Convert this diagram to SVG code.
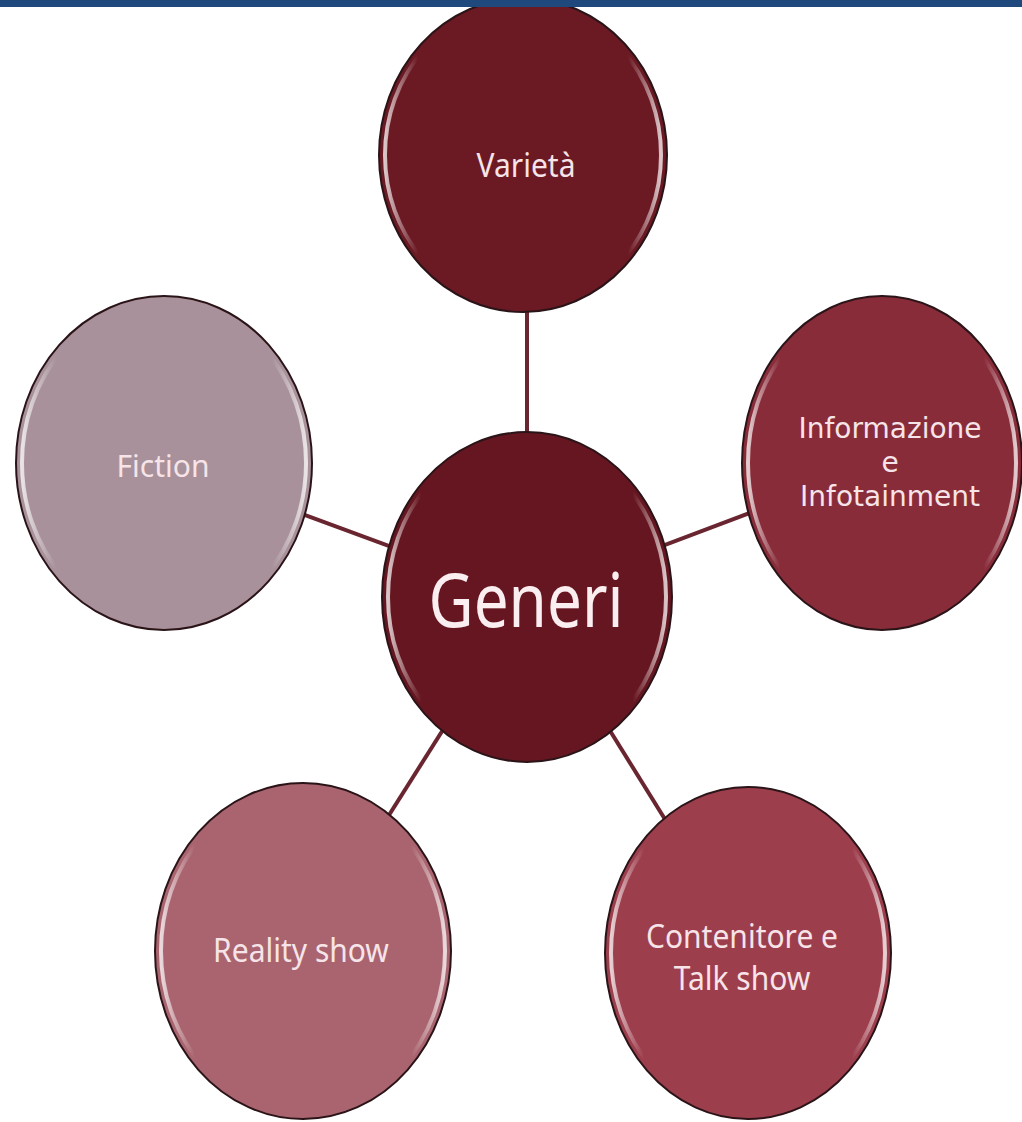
<svg xmlns="http://www.w3.org/2000/svg" width="1022" height="1122" viewBox="0 0 1022 1122">
<style>
.lbl{font-family:"Noto Sans","DejaVu Sans",sans-serif;font-size:30px;fill:#f6e4e8;text-anchor:middle}
.lbl2{font-family:"DejaVu Sans","Noto Sans",sans-serif;font-size:28px;fill:#f6e4e8;text-anchor:middle}
.big{font-family:"Noto Sans","DejaVu Sans",sans-serif;font-size:62px;fill:#fbeef0;text-anchor:middle}
.edge{stroke:#2a1418;stroke-width:2}
.gloss{fill:none;stroke:url(#shine);stroke-width:4}
.conn{stroke:#6a2630;stroke-width:4;fill:none}
</style>
<defs>
<linearGradient id="shine" x1="0" y1="0" x2="1" y2="0">
<stop offset="0" stop-color="#ffffff" stop-opacity="0.75"/>
<stop offset="0.12" stop-color="#ffffff" stop-opacity="0"/>
<stop offset="0.88" stop-color="#ffffff" stop-opacity="0"/>
<stop offset="1" stop-color="#ffffff" stop-opacity="0.75"/>
</linearGradient>
</defs>
<rect x="0" y="0" width="1022" height="1122" fill="#ffffff"/>
<g id="connectors">
<line class="conn" x1="527" y1="300" x2="527" y2="440"/>
<line class="conn" x1="527" y1="597" x2="164" y2="463"/>
<line class="conn" x1="527" y1="597" x2="882" y2="463"/>
<line class="conn" x1="527" y1="597" x2="303" y2="951"/>
<line class="conn" x1="527" y1="597" x2="748" y2="953"/>
</g>
<g id="varieta">
<ellipse class="edge" cx="523" cy="155" rx="144" ry="157" fill="#6b1923"/>
<ellipse class="gloss" cx="523" cy="155" rx="138" ry="151"/>
<text class="lbl" transform="translate(526,177) scale(1,1.12)">Varietà</text>
</g>
<g id="fiction">
<ellipse class="edge" cx="164" cy="463" rx="148" ry="167" fill="#a8919a"/>
<ellipse class="gloss" cx="164" cy="463" rx="142" ry="161"/>
<text class="lbl" transform="translate(163,477) scale(1,1.05)">Fiction</text>
</g>
<g id="informazione">
<ellipse class="edge" cx="882" cy="463" rx="140" ry="167" fill="#892c3a"/>
<ellipse class="gloss" cx="882" cy="463" rx="134" ry="161"/>
<text class="lbl2" x="890" y="438">Informazione</text>
<text class="lbl2" x="890" y="472">e</text>
<text class="lbl2" x="890" y="506">Infotainment</text>
</g>
<g id="generi">
<ellipse class="edge" cx="527" cy="597" rx="145" ry="165" fill="#661620"/>
<ellipse class="gloss" cx="527" cy="597" rx="139" ry="159"/>
<text class="big" transform="translate(526,627) scale(1,1.2)">Generi</text>
</g>
<g id="reality">
<ellipse class="edge" cx="303" cy="951" rx="148" ry="168" fill="#a9646f"/>
<ellipse class="gloss" cx="303" cy="951" rx="142" ry="162"/>
<text class="lbl" transform="translate(301,962) scale(1,1.08)">Reality show</text>
</g>
<g id="contenitore">
<ellipse class="edge" cx="748" cy="953" rx="143" ry="166" fill="#9d3e4d"/>
<ellipse class="gloss" cx="748" cy="953" rx="137" ry="160"/>
<text class="lbl" transform="translate(742,948) scale(1,1.08)">Contenitore e</text>
<text class="lbl" transform="translate(742,990) scale(1,1.08)">Talk show</text>
</g>
<rect id="topbar" x="0" y="0" width="1022" height="7" fill="#1f497d"/>
</svg>
